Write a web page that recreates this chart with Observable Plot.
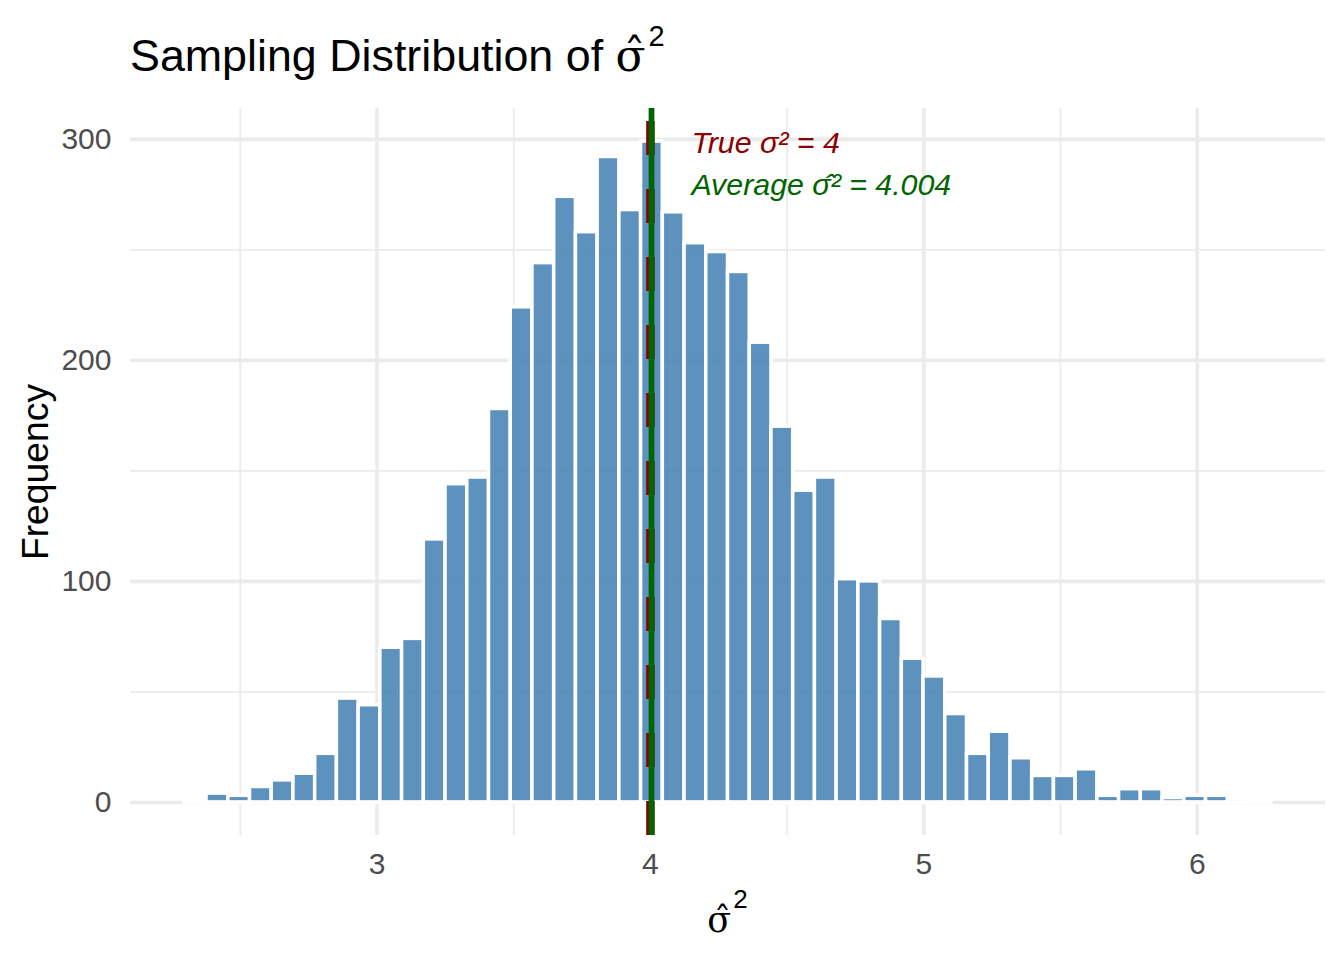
<!DOCTYPE html>
<html><head><meta charset="utf-8">
<script src="https://cdn.jsdelivr.net/npm/d3@7"></script>
<script src="https://cdn.jsdelivr.net/npm/@observablehq/plot@0.6"></script>
<style>
body{margin:0;background:#fff;}
#wrap{position:relative;width:1344px;height:960px;font-family:"Liberation Sans",Arial,sans-serif;color:#000;}
#title{position:relative;height:100px;}
#title .t{position:absolute;left:130px;top:32.6px;font-size:44.8px;line-height:44.8px;white-space:nowrap;}
.sig{font-family:"DejaVu Serif",serif;line-height:0;}
.sup{position:relative;line-height:0;}
#xlab{position:absolute;left:727.5px;top:901.4px;transform:translateX(-50%);font-size:37.3px;line-height:37.3px;white-space:nowrap;}
#chart svg{display:block;}
</style></head>
<body><div id="wrap">
<div id="title"><span class="t">Sampling Distribution of <span class="sig" style="font-size:44px">σ&#x302;</span><span class="sup" style="font-size:29px;top:-25px;margin-left:3px">2</span></span></div>
<div id="chart"></div>
<div id="xlab"><span class="sig" style="font-size:35px">σ&#x302;</span><span class="sup" style="font-size:26px;top:-24px;margin-left:2px">2</span></div>
</div>
<script>
// Histogram counts (50 bins) of simulated sigma-hat^2 values
const counts = [1,4,3,7,10,13,22,47,44,70,74,119,144,147,178,224,244,274,258,292,268,299,267,253,249,240,208,170,141,147,101,100,83,65,57,40,22,32,20,12,12,15,3,6,6,2,3,3,0,1];
const binStart = 2.297;
const binWidth = 0.07947;
const trueSigma2 = 4;
const avgSigma2 = 4.004;
const xTicks = [3, 4, 5, 6];
const xMinor = [2.5, 3.5, 4.5, 5.5];
const yTicks = [0, 100, 200, 300];
const yMinor = [50, 150, 250];
const trueLabel = "True σ² = 4";
const avgLabel = "Average σ\u0302² = 4.004";
const labelX = 4.15;
const labelY = [298, 279];

const bins = counts.map((c, i) => ({x1: binStart + i * binWidth, x2: binStart + (i + 1) * binWidth, count: c}));
const xMin = binStart, xMax = binStart + counts.length * binWidth;
const xPad = 0.05 * (xMax - xMin);
const yMax = d3.max(counts);
const yDomain = [-0.05 * yMax, 1.05 * yMax];

const grid = "#EBEBEB";
const plot = Plot.plot({
  width: 1344, height: 860,
  marginTop: 8, marginBottom: 125, marginLeft: 130, marginRight: 19,
  style: {fontFamily: '"Liberation Sans", Arial, sans-serif', background: "white", overflow: "visible"},
  x: {domain: [xMin - xPad, xMax + xPad]},
  y: {domain: yDomain},
  marks: [
    Plot.gridX(xMinor, {stroke: grid, strokeOpacity: 1, strokeWidth: 1.8}),
    Plot.gridY(yMinor, {stroke: grid, strokeOpacity: 1, strokeWidth: 1.8}),
    Plot.gridX(xTicks, {stroke: grid, strokeOpacity: 1, strokeWidth: 3.6}),
    Plot.gridY(yTicks, {stroke: grid, strokeOpacity: 1, strokeWidth: 3.6}),
    Plot.rect(bins, {x1: "x1", x2: "x2", y1: () => 0, y2: "count", fill: "steelblue", fillOpacity: 0.87, stroke: "white", strokeWidth: 3.5, inset: 0}),
    Plot.ruleY([0], {x1: () => xMin, x2: () => xMax, stroke: "white", strokeWidth: 3.5, strokeLinecap: "square"}),
    Plot.ruleX([trueSigma2], {y1: () => yDomain[0], y2: () => yDomain[1], stroke: "#8B0000", strokeWidth: 8.5, strokeDasharray: "34,34"}),
    Plot.ruleX([avgSigma2], {y1: () => yDomain[0], y2: () => yDomain[1], stroke: "#006400", strokeWidth: 5.7}),
    Plot.text([trueLabel], {text: d => d, x: () => labelX, y: () => labelY[0], fill: "#8B0000", textAnchor: "start", fontSize: 30.35, fontStyle: "italic"}),
    Plot.text([avgLabel], {text: d => d, x: () => labelX, y: () => labelY[1], fill: "#006400", textAnchor: "start", fontSize: 30.35, fontStyle: "italic"}),
    Plot.axisX(xTicks, {tickSize: 0, tickPadding: 17, fontSize: 30, color: "#4D4D4D", label: null, tickFormat: d => String(d)}),
    Plot.axisY(yTicks, {tickSize: 0, tickPadding: 19, fontSize: 30, color: "#4D4D4D", label: null, tickFormat: d => String(d)}),
    Plot.text(["Frequency"], {text: d => d, frameAnchor: "left", textAnchor: "middle", rotate: -90, dx: -94, fontSize: 37.3, fill: "black"})
  ]
});
document.getElementById("chart").appendChild(plot);
</script>
</body></html>
